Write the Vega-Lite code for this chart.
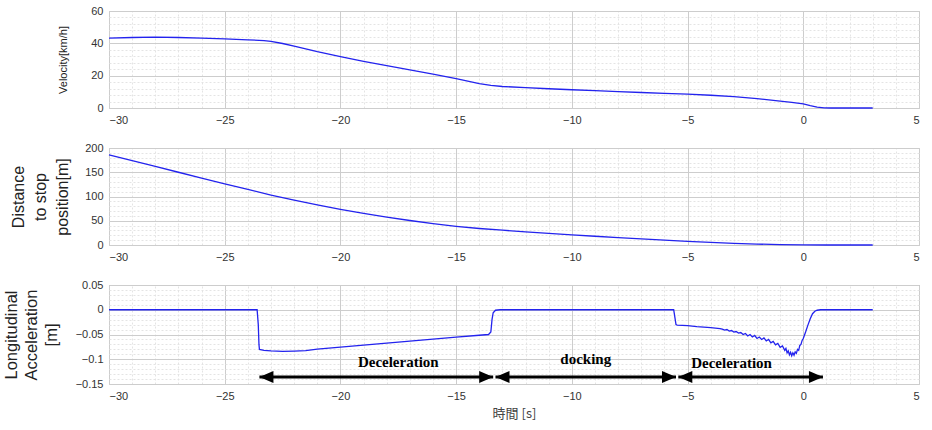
{
  "$schema": "https://vega.github.io/schema/vega-lite/v6.json",
  "background": "white",
  "padding": {"left": 2, "top": 4, "right": 8, "bottom": 5},
  "bounds": "flush",
  "spacing": 40,
  "config": {
    "view": {"stroke": "#555", "strokeWidth": 1},
    "font": "Liberation Sans",
    "axis": {"labelFont": "Liberation Sans", "labelFontSize": 11, "labelColor": "#333", "titleFont": "Liberation Sans", "titleFontWeight": "normal", "titleColor": "#222"}
  },
  "datasets": {
    "velocity": [
      {"t": -30, "v": 43.2}, {"t": -29, "v": 43.6}, {"t": -28, "v": 43.8}, {"t": -27, "v": 43.6}, {"t": -26, "v": 43.2},
      {"t": -25, "v": 42.7}, {"t": -24, "v": 42.2}, {"t": -23.3, "v": 41.7}, {"t": -23, "v": 41.2}, {"t": -22.5, "v": 39.9},
      {"t": -22, "v": 38.3}, {"t": -21.5, "v": 36.5}, {"t": -21, "v": 34.8}, {"t": -20, "v": 31.8}, {"t": -19, "v": 28.9},
      {"t": -18, "v": 26.2}, {"t": -17, "v": 23.6}, {"t": -16, "v": 21.0}, {"t": -15, "v": 18.2}, {"t": -14, "v": 15.1},
      {"t": -13.5, "v": 14.0}, {"t": -13, "v": 13.3}, {"t": -12, "v": 12.6}, {"t": -11, "v": 11.9}, {"t": -10, "v": 11.3},
      {"t": -9, "v": 10.7}, {"t": -8, "v": 10.1}, {"t": -7, "v": 9.6}, {"t": -6, "v": 9.1}, {"t": -5, "v": 8.6},
      {"t": -4, "v": 7.9}, {"t": -3, "v": 7.0}, {"t": -2, "v": 5.8}, {"t": -1, "v": 4.3}, {"t": -0.5, "v": 3.5},
      {"t": 0, "v": 2.6}, {"t": 0.3, "v": 1.4}, {"t": 0.6, "v": 0.5}, {"t": 0.9, "v": 0.05}, {"t": 1.2, "v": 0}, {"t": 3, "v": 0}
    ],
    "distance": [
      {"t": -30, "d": 186}, {"t": -29, "d": 174}, {"t": -28, "d": 162}, {"t": -27, "d": 150}, {"t": -26, "d": 138},
      {"t": -25, "d": 126}, {"t": -24, "d": 114.5}, {"t": -23, "d": 103}, {"t": -22, "d": 92.5}, {"t": -21, "d": 82.5},
      {"t": -20, "d": 73.5}, {"t": -19, "d": 65}, {"t": -18, "d": 57.5}, {"t": -17, "d": 50.5}, {"t": -16, "d": 44},
      {"t": -15, "d": 38.5}, {"t": -14, "d": 34}, {"t": -13, "d": 30.5}, {"t": -12, "d": 27}, {"t": -11, "d": 24},
      {"t": -10, "d": 21}, {"t": -9, "d": 18}, {"t": -8, "d": 15.2}, {"t": -7, "d": 12.6}, {"t": -6, "d": 10},
      {"t": -5, "d": 7.6}, {"t": -4, "d": 5.4}, {"t": -3, "d": 3.5}, {"t": -2, "d": 1.9}, {"t": -1, "d": 0.7},
      {"t": 0, "d": 0.1}, {"t": 1, "d": 0}, {"t": 3, "d": 0}
    ],
    "accel": [
      {"t": -30, "a": 0}, {"t": -23.6, "a": 0}, {"t": -23.55, "a": -0.03}, {"t": -23.52, "a": -0.07}, {"t": -23.5, "a": -0.080},
      {"t": -23.3, "a": -0.082}, {"t": -23, "a": -0.083}, {"t": -22.5, "a": -0.084}, {"t": -22, "a": -0.0835}, {"t": -21.5, "a": -0.0825},
      {"t": -21, "a": -0.0795}, {"t": -20, "a": -0.0755}, {"t": -19, "a": -0.0715}, {"t": -18, "a": -0.0675}, {"t": -17, "a": -0.0635},
      {"t": -16, "a": -0.0595}, {"t": -15, "a": -0.0555}, {"t": -14, "a": -0.0515}, {"t": -13.6, "a": -0.050}, {"t": -13.5, "a": -0.045},
      {"t": -13.45, "a": -0.02}, {"t": -13.4, "a": -0.006}, {"t": -13.3, "a": -0.001}, {"t": -13.1, "a": 0}, {"t": -5.6, "a": 0},
      {"t": -5.5, "a": -0.030}, {"t": -5.45, "a": -0.031}, {"t": -5.0, "a": -0.032}, {"t": -4.6, "a": -0.034}, {"t": -4.3, "a": -0.035},
      {"t": -4.0, "a": -0.036}, {"t": -3.8, "a": -0.037}, {"t": -3.6, "a": -0.038}, {"t": -3.5, "a": -0.039}, {"t": -3.4, "a": -0.041},
      {"t": -3.3, "a": -0.040}, {"t": -3.2, "a": -0.043}, {"t": -3.1, "a": -0.042}, {"t": -3.0, "a": -0.045}, {"t": -2.9, "a": -0.044},
      {"t": -2.8, "a": -0.047}, {"t": -2.7, "a": -0.046}, {"t": -2.6, "a": -0.050}, {"t": -2.5, "a": -0.048}, {"t": -2.4, "a": -0.053},
      {"t": -2.3, "a": -0.050}, {"t": -2.2, "a": -0.055}, {"t": -2.1, "a": -0.052}, {"t": -2.0, "a": -0.058}, {"t": -1.9, "a": -0.055},
      {"t": -1.8, "a": -0.060}, {"t": -1.7, "a": -0.057}, {"t": -1.6, "a": -0.063}, {"t": -1.5, "a": -0.060}, {"t": -1.4, "a": -0.067},
      {"t": -1.3, "a": -0.064}, {"t": -1.2, "a": -0.071}, {"t": -1.1, "a": -0.068}, {"t": -1.0, "a": -0.076}, {"t": -0.9, "a": -0.073},
      {"t": -0.8, "a": -0.082}, {"t": -0.75, "a": -0.078}, {"t": -0.7, "a": -0.087}, {"t": -0.65, "a": -0.083}, {"t": -0.6, "a": -0.091},
      {"t": -0.55, "a": -0.086}, {"t": -0.5, "a": -0.093}, {"t": -0.45, "a": -0.087}, {"t": -0.4, "a": -0.092}, {"t": -0.35, "a": -0.085},
      {"t": -0.3, "a": -0.088}, {"t": -0.25, "a": -0.080}, {"t": -0.2, "a": -0.082}, {"t": -0.15, "a": -0.072}, {"t": -0.1, "a": -0.070},
      {"t": -0.05, "a": -0.062}, {"t": 0.0, "a": -0.058}, {"t": 0.1, "a": -0.045}, {"t": 0.2, "a": -0.031}, {"t": 0.3, "a": -0.018},
      {"t": 0.4, "a": -0.008}, {"t": 0.5, "a": -0.003}, {"t": 0.6, "a": -0.001}, {"t": 0.75, "a": 0}, {"t": 3.0, "a": 0}
    ],
    "arrows": [
      {"x0": -23.5, "x1": -13.4, "y": -0.136},
      {"x0": -13.3, "x1": -5.5, "y": -0.136},
      {"x0": -5.4, "x1": 0.85, "y": -0.136}
    ],
    "labels": [
      {"txt": "Deceleration", "x": -17.5, "y": -0.106},
      {"txt": "docking", "x": -9.4, "y": -0.099},
      {"txt": "Deceleration", "x": -3.1, "y": -0.108}
    ]
  },
  "vconcat": [
    {
      "width": 810,
      "height": 97,
      "data": {"name": "velocity"},
      "resolve": {"axis": {"x": "independent", "y": "independent"}},
      "layer": [
        {
          "mark": {"type": "line", "opacity": 0},
          "encoding": {
            "x": {"field": "t", "type": "quantitative", "axis": {"orient": "top", "values": [-30,-29,-28,-27,-26,-25,-24,-23,-22,-21,-20,-19,-18,-17,-16,-15,-14,-13,-12,-11,-10,-9,-8,-7,-6,-5,-4,-3,-2,-1,0,1,2,3,4,5], "grid": true, "gridColor": "#e4e4e4", "gridDash": [2, 2], "labels": false, "ticks": false, "domain": false, "title": null}},
            "y": {"field": "v", "type": "quantitative", "axis": {"orient": "right", "values": [0,4,8,12,16,20,24,28,32,36,40,44,48,52,56,60], "grid": true, "gridColor": "#e4e4e4", "gridDash": [2, 2], "labels": false, "ticks": false, "domain": false, "title": null}}
          }
        },
        {
          "mark": {"type": "line", "color": "#2323ee", "strokeWidth": 1.3},
          "encoding": {
            "x": {"field": "t", "type": "quantitative", "scale": {"domain": [-30, 5], "nice": false}, "axis": {"orient": "bottom", "values": [-30,-25,-20,-15,-10,-5,0,5], "grid": true, "gridColor": "#cdcdcd", "ticks": false, "domain": false, "labelPadding": 6, "format": ".2~f", "title": null}},
            "y": {"field": "v", "type": "quantitative", "scale": {"domain": [0, 60], "nice": false}, "axis": {"orient": "left", "values": [0,20,40,60], "grid": true, "gridColor": "#cdcdcd", "ticks": false, "domain": false, "labelPadding": 6, "format": ".2~f", "title": "Velocity[km/h]", "titleFontSize": 11, "titlePadding": 22}}
          }
        }
      ]
    },
    {
      "width": 810,
      "height": 97,
      "data": {"name": "distance"},
      "resolve": {"axis": {"x": "independent", "y": "independent"}},
      "layer": [
        {
          "mark": {"type": "line", "opacity": 0},
          "encoding": {
            "x": {"field": "t", "type": "quantitative", "axis": {"orient": "top", "values": [-30,-29,-28,-27,-26,-25,-24,-23,-22,-21,-20,-19,-18,-17,-16,-15,-14,-13,-12,-11,-10,-9,-8,-7,-6,-5,-4,-3,-2,-1,0,1,2,3,4,5], "grid": true, "gridColor": "#e4e4e4", "gridDash": [2, 2], "labels": false, "ticks": false, "domain": false, "title": null}},
            "y": {"field": "d", "type": "quantitative", "axis": {"orient": "right", "values": [0,10,20,30,40,50,60,70,80,90,100,110,120,130,140,150,160,170,180,190,200], "grid": true, "gridColor": "#e4e4e4", "gridDash": [2, 2], "labels": false, "ticks": false, "domain": false, "title": null}}
          }
        },
        {
          "mark": {"type": "line", "color": "#2323ee", "strokeWidth": 1.3},
          "encoding": {
            "x": {"field": "t", "type": "quantitative", "scale": {"domain": [-30, 5], "nice": false}, "axis": {"orient": "bottom", "values": [-30,-25,-20,-15,-10,-5,0,5], "grid": true, "gridColor": "#cdcdcd", "ticks": false, "domain": false, "labelPadding": 6, "format": ".2~f", "title": null}},
            "y": {"field": "d", "type": "quantitative", "scale": {"domain": [0, 200], "nice": false}, "axis": {"orient": "left", "values": [0,50,100,150,200], "grid": true, "gridColor": "#cdcdcd", "ticks": false, "domain": false, "labelPadding": 6, "format": ".2~f", "title": ["Distance", "to stop", "position[m]"], "titleFontSize": 16, "titleLineHeight": 22, "titlePadding": 14}}
          }
        }
      ]
    },
    {
      "width": 810,
      "height": 99,
      "resolve": {"axis": {"x": "independent", "y": "independent"}},
      "layer": [
        {
          "data": {"name": "accel"},
          "mark": {"type": "line", "opacity": 0},
          "encoding": {
            "x": {"field": "t", "type": "quantitative", "axis": {"orient": "top", "values": [-30,-29,-28,-27,-26,-25,-24,-23,-22,-21,-20,-19,-18,-17,-16,-15,-14,-13,-12,-11,-10,-9,-8,-7,-6,-5,-4,-3,-2,-1,0,1,2,3,4,5], "grid": true, "gridColor": "#e4e4e4", "gridDash": [2, 2], "labels": false, "ticks": false, "domain": false, "title": null}},
            "y": {"field": "a", "type": "quantitative", "axis": {"orient": "right", "values": [-0.15,-0.14,-0.13,-0.12,-0.11,-0.1,-0.09,-0.08,-0.07,-0.06,-0.05,-0.04,-0.03,-0.02,-0.01,0,0.01,0.02,0.03,0.04,0.05], "grid": true, "gridColor": "#e4e4e4", "gridDash": [2, 2], "labels": false, "ticks": false, "domain": false, "title": null}}
          }
        },
        {
          "data": {"name": "accel"},
          "mark": {"type": "line", "color": "#2323ee", "strokeWidth": 1.3},
          "encoding": {
            "x": {"field": "t", "type": "quantitative", "scale": {"domain": [-30, 5], "nice": false}, "axis": {"orient": "bottom", "values": [-30,-25,-20,-15,-10,-5,0,5], "grid": true, "gridColor": "#cdcdcd", "ticks": false, "domain": false, "labelPadding": 6, "format": ".2~f", "title": "時間 [s]", "titleFont": "Noto Sans CJK JP", "titleFontSize": 13, "titleColor": "#444", "titlePadding": 6}},
            "y": {"field": "a", "type": "quantitative", "scale": {"domain": [-0.15, 0.05], "nice": false}, "axis": {"orient": "left", "values": [-0.15,-0.1,-0.05,0,0.05], "grid": true, "gridColor": "#cdcdcd", "ticks": false, "domain": false, "labelPadding": 6, "format": ".2~f", "title": ["Longitudinal", "Acceleration", "[m]"], "titleFontSize": 16.5, "titleLineHeight": 20, "titlePadding": 16}}
          }
        },
        {
          "data": {"name": "arrows"},
          "mark": {"type": "rule", "color": "black", "strokeWidth": 3},
          "encoding": {
            "x": {"field": "x0", "type": "quantitative", "axis": null},
            "x2": {"field": "x1"},
            "y": {"field": "y", "type": "quantitative", "axis": null}
          }
        },
        {
          "data": {"name": "arrows"},
          "mark": {"type": "point", "shape": "M0,0L2,-0.85L2,0.85Z", "filled": true, "color": "black", "opacity": 1, "size": 196},
          "encoding": {
            "x": {"field": "x0", "type": "quantitative", "axis": null},
            "y": {"field": "y", "type": "quantitative", "axis": null}
          }
        },
        {
          "data": {"name": "arrows"},
          "mark": {"type": "point", "shape": "M0,0L-2,-0.85L-2,0.85Z", "filled": true, "color": "black", "opacity": 1, "size": 196},
          "encoding": {
            "x": {"field": "x1", "type": "quantitative", "axis": null},
            "y": {"field": "y", "type": "quantitative", "axis": null}
          }
        },
        {
          "data": {"name": "labels"},
          "mark": {"type": "text", "font": "Liberation Serif", "fontWeight": "bold", "fontSize": 15, "color": "black", "baseline": "middle", "align": "center"},
          "encoding": {
            "x": {"field": "x", "type": "quantitative", "axis": null},
            "y": {"field": "y", "type": "quantitative", "axis": null},
            "text": {"field": "txt"}
          }
        }
      ]
    }
  ]
}
